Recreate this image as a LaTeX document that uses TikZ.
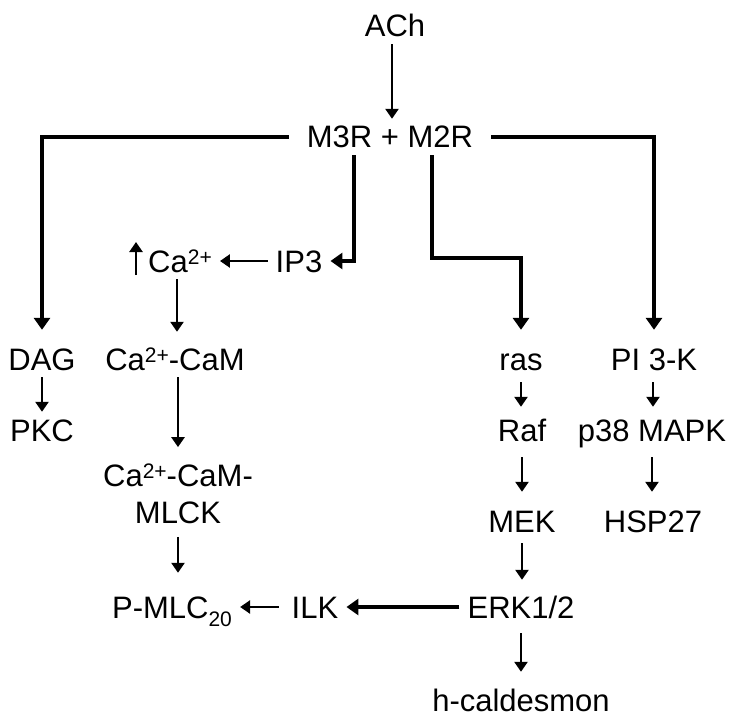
\documentclass[tikz,border=0pt]{standalone}
\usepackage{fontspec}
\setmainfont{Liberation Sans}
\usetikzlibrary{arrows.meta}
\newcommand\supx[1]{\raisebox{7.4pt}{\fontsize{21}{21}\selectfont #1}}
\newcommand\subx[1]{\raisebox{-8pt}{\fontsize{21}{21}\selectfont #1}}
\begin{document}
\begin{tikzpicture}[x=1pt,y=-1pt,
  lbl/.style={font=\fontsize{31}{37}\selectfont, inner xsep=8pt, inner ysep=7pt, text height=22pt, text depth=0pt},
  lbltwo/.style={font=\fontsize{31}{37}\selectfont, inner xsep=8pt, inner ysep=7pt, align=center},
  thinarr/.style={line width=2.8pt, -{Triangle[length=10pt,width=13pt]}},
  thickarr/.style={line width=3.6pt, line join=miter, -{Triangle[length=12pt,width=16pt]}}]
\useasboundingbox (0,0) rectangle (732,717);

\node[lbl] (ach) at (395,26) {ACh};
\node[lbl] (m) at (390,137) {M3R + M2R};
\node[lbl] (ip3) at (299,261) {IP3};
\node[lbl] (ca) at (180,261) {Ca\supx{2+}};
\node[lbl] (dag) at (42,359) {DAG};
\node[lbl] (cacam) at (175,359) {Ca\supx{2+}-CaM};
\node[lbl] (ras) at (521,359) {ras};
\node[lbl] (pi) at (654,359) {PI 3-K};
\node[lbl] (pkc) at (42,430) {PKC};
\node[lbl] (raf) at (522,430) {Raf};
\node[lbl] (p38) at (652,430) {p38 MAPK};
\node[lbltwo] (mlck) at (178,494) {Ca\supx{2+}-CaM-\\MLCK};
\node[lbl] (mek) at (522,521) {MEK};
\node[lbl] (hsp) at (653,521) {HSP27};
\node[lbl] (erk) at (521,607) {ERK1/2};
\node[lbl] (ilk) at (315,607) {ILK};
\node[lbl] (pmlc) at (172,607) {P-MLC\subx{20}};
\node[lbl] (hcal) at (521,700) {h-caldesmon};

\coordinate (cu1) at (136,275);
\coordinate (cu2) at (136,242);

% top
\draw[thinarr] ([xshift=-3pt]ach.south) -- ([xshift=-3pt]ach.south |- m.north);
\draw[thickarr] ([xshift=-10pt]m.west) -| ([yshift=11pt]dag.north);
\draw[thickarr] ([xshift=10pt]m.east) -| ([yshift=11pt]pi.north);
\draw[thickarr] ([xshift=-36pt]m.south) |- (ip3.east);
\draw[thickarr] ([xshift=42pt]m.south) -- ++(0,103) -| ([yshift=11pt]ras.north);

% calcium branch
\draw[thinarr] (ip3.west) -- (ca.east);
\draw[thinarr] (cu1) -- (cu2);
\draw[thinarr] ([xshift=-3pt]ca.south) -- ([xshift=-3pt,yshift=9pt]ca.south |- cacam.north);
\draw[thinarr] ([xshift=3pt]cacam.south) -- ([xshift=3pt,yshift=10pt]cacam.south |- mlck.north);
\draw[thinarr, shorten <=6pt, shorten >=16pt] (mlck.south) -- (mlck.south |- pmlc.north);

% DAG
\draw[thinarr] (dag.south) -- (pkc.north);

% ras branch
\draw[thinarr, shorten <=5pt, shorten >=5pt] (ras.south) -- (ras.south |- raf.north);
\draw[thinarr, shorten <=9pt, shorten >=11pt] (raf.south) -- (raf.south |- mek.north);
\draw[thinarr, shorten <=4pt, shorten >=9pt] (mek.south) -- (mek.south |- erk.north);
\draw[thinarr, shorten <=8pt, shorten >=10pt] (erk.south) -- (erk.south |- hcal.north);
\draw[thickarr] (erk.west) -- (ilk.east);
\draw[thinarr, shorten <=5pt] (ilk.west) -- (pmlc.east);

% PI3K branch
\draw[thinarr, shorten <=5pt, shorten >=5pt] ([xshift=-1pt]pi.south) -- ([xshift=-1pt]pi.south |- p38.north);
\draw[thinarr, shorten <=9pt, shorten >=11pt] (p38.south) -- (p38.south |- hsp.north);
\end{tikzpicture}
\end{document}
